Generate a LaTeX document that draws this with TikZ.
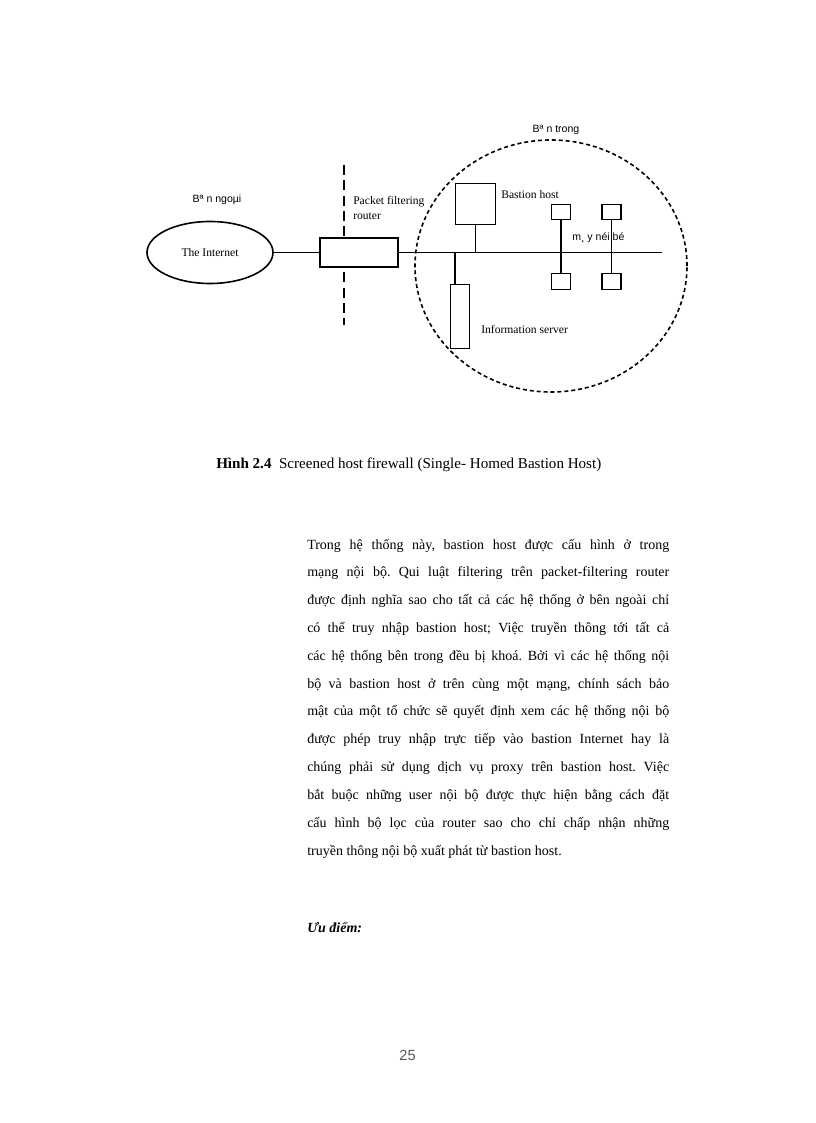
\documentclass[tikz,border=0pt]{standalone}
\usepackage{fontspec}
\setmainfont{Liberation Serif}
\newfontfamily\arialf{Liberation Sans}
\usetikzlibrary{shapes.geometric}
\frenchspacing
\newcommand\jtext[1]{\makebox[271.5pt][s]{#1}}
\begin{document}
\begin{tikzpicture}[x=0.75pt,y=-0.75pt,
  ln/.style={line width=0.9pt},
  hostbox/.style={draw, fill=white, inner sep=0pt, line width=1.2pt},
  serif/.style={font=\fontsize{8.7}{11.25}\selectfont, inner sep=0pt},
  sans/.style={font=\arialf\fontsize{7.9}{9.5}\selectfont, inner sep=0pt},
  bodytxt/.style={font=\fontsize{10.5}{12}\selectfont, inner sep=0pt, anchor=base west}]
\useasboundingbox[fill=white] (0,0) rectangle (816,1123);

% dashed divider (behind router)
\coordinate (dtop) at (344,165);
\coordinate (dbot) at (344,325);
\draw[line width=1.2pt, dash pattern=on 7.5pt off 4pt] (dtop) -- (dbot);

% dashed inner zone
\node[draw, ellipse, dash pattern=on 3pt off 2.2pt, line width=1.2pt,
      minimum width=272*0.75pt, minimum height=252*0.75pt, inner sep=0pt] (inner) at (551,266) {};

% the Internet
\node[draw, ellipse, line width=1.2pt, minimum width=126*0.75pt, minimum height=62*0.75pt,
      inner sep=0pt, font=\fontsize{8.7}{10}\selectfont] (inet) at (210,252.5) {The Internet};

% router
\node[hostbox, line width=2pt, minimum width=78*0.75pt, minimum height=29*0.75pt] (router) at (359,252.5) {};

\coordinate (bbR) at (662,252.5);
\draw[ln] (inet.east) -- (router.west);
\draw[ln] (router.east) -- (bbR);

% bastion host
\node[hostbox, line width=1.4pt, minimum width=40*0.75pt, minimum height=41*0.75pt] (bastion) at (475.5,204) {};
\coordinate (jb) at (475.5,252.5);
\draw[line width=1.3pt] (bastion.south) -- (jb);

% information server
\node[hostbox, minimum width=19*0.75pt, minimum height=64*0.75pt] (info) at (460,316.5) {};
\coordinate (ji) at (455,252.5);
\draw[line width=1.1pt] (ji) -- (ji |- info.north);

% internal machines
\node[hostbox, minimum width=19*0.75pt, minimum height=15*0.75pt] (m1t) at (561,212) {};
\node[hostbox, minimum width=19*0.75pt, minimum height=15*0.75pt] (m2t) at (611.5,212) {};
\node[hostbox, minimum width=19*0.75pt, minimum height=16*0.75pt] (m1b) at (561,281.5) {};
\node[hostbox, minimum width=19*0.75pt, minimum height=16*0.75pt] (m2b) at (611.5,281.5) {};
\draw[line width=1.6pt] (m1t.south) -- (m1b.north);
\draw[line width=1pt] (m2t.south) -- (m2b.north);

% labels
\node[sans] (lblout) at (217,200) {Bª n ngoµi};
\node[sans] (lblin) at (556,130) {Bª n trong};
\node[serif, anchor=west, align=left] (lblpf) at (353,208) {Packet filtering\\router};
\node[serif, anchor=west] (lblbh) at (501,195) {Bastion host};
\node[sans, anchor=west] (lblm) at (572,238) {m¸ y néi bé};
\node[serif, anchor=west] (lblis) at (481,329) {Information server};

% caption
\node[bodytxt, font=\fontsize{11.3}{13}\selectfont] (cap) at (216,468)
  {\textbf{Hình 2.4}\ \ Screened host firewall (Single- Homed Bastion Host)};

% body text
\node[bodytxt] (l1) at (307,549) {\jtext{Trong hệ thống này, bastion host được cấu hình ở trong}};
\node[bodytxt] (l2) at (307,576.8) {\jtext{mạng nội bộ. Qui luật filtering trên packet-filtering router}};
\node[bodytxt] (l3) at (307,604.6) {\jtext{được định nghĩa sao cho tất cả các hệ thống ở bên ngoài chỉ}};
\node[bodytxt] (l4) at (307,632.5) {\jtext{có thể truy nhập bastion host; Việc truyền thông tới tất cả}};
\node[bodytxt] (l5) at (307,660.3) {\jtext{các hệ thống bên trong đều bị khoá. Bởi vì các hệ thống nội}};
\node[bodytxt] (l6) at (307,688.1) {\jtext{bộ và bastion host ở trên cùng một mạng, chính sách bảo}};
\node[bodytxt] (l7) at (307,715.9) {\jtext{mật của một tổ chức sẽ quyết định xem các hệ thống nội bộ}};
\node[bodytxt] (l8) at (307,743.7) {\jtext{được phép truy nhập trực tiếp vào bastion Internet hay là}};
\node[bodytxt] (l9) at (307,771.6) {\jtext{chúng phải sử dụng dịch vụ proxy trên bastion host. Việc}};
\node[bodytxt] (l10) at (307,799.4) {\jtext{bắt buộc những user nội bộ được thực hiện bằng cách đặt}};
\node[bodytxt] (l11) at (307,827.2) {\jtext{cấu hình bộ lọc của router sao cho chỉ chấp nhận những}};
\node[bodytxt] (l12) at (307,855) {truyền thông nội bộ xuất phát từ bastion host.};

\node[bodytxt] (adv) at (307,932) {\textbf{\textit{Ưu điểm:}}};

% page number
\node[font=\arialf\fontsize{11}{12}\selectfont, text=black!65, anchor=base, inner sep=0pt] (pg) at (407.5,1060) {25};
\end{tikzpicture}
\end{document}
